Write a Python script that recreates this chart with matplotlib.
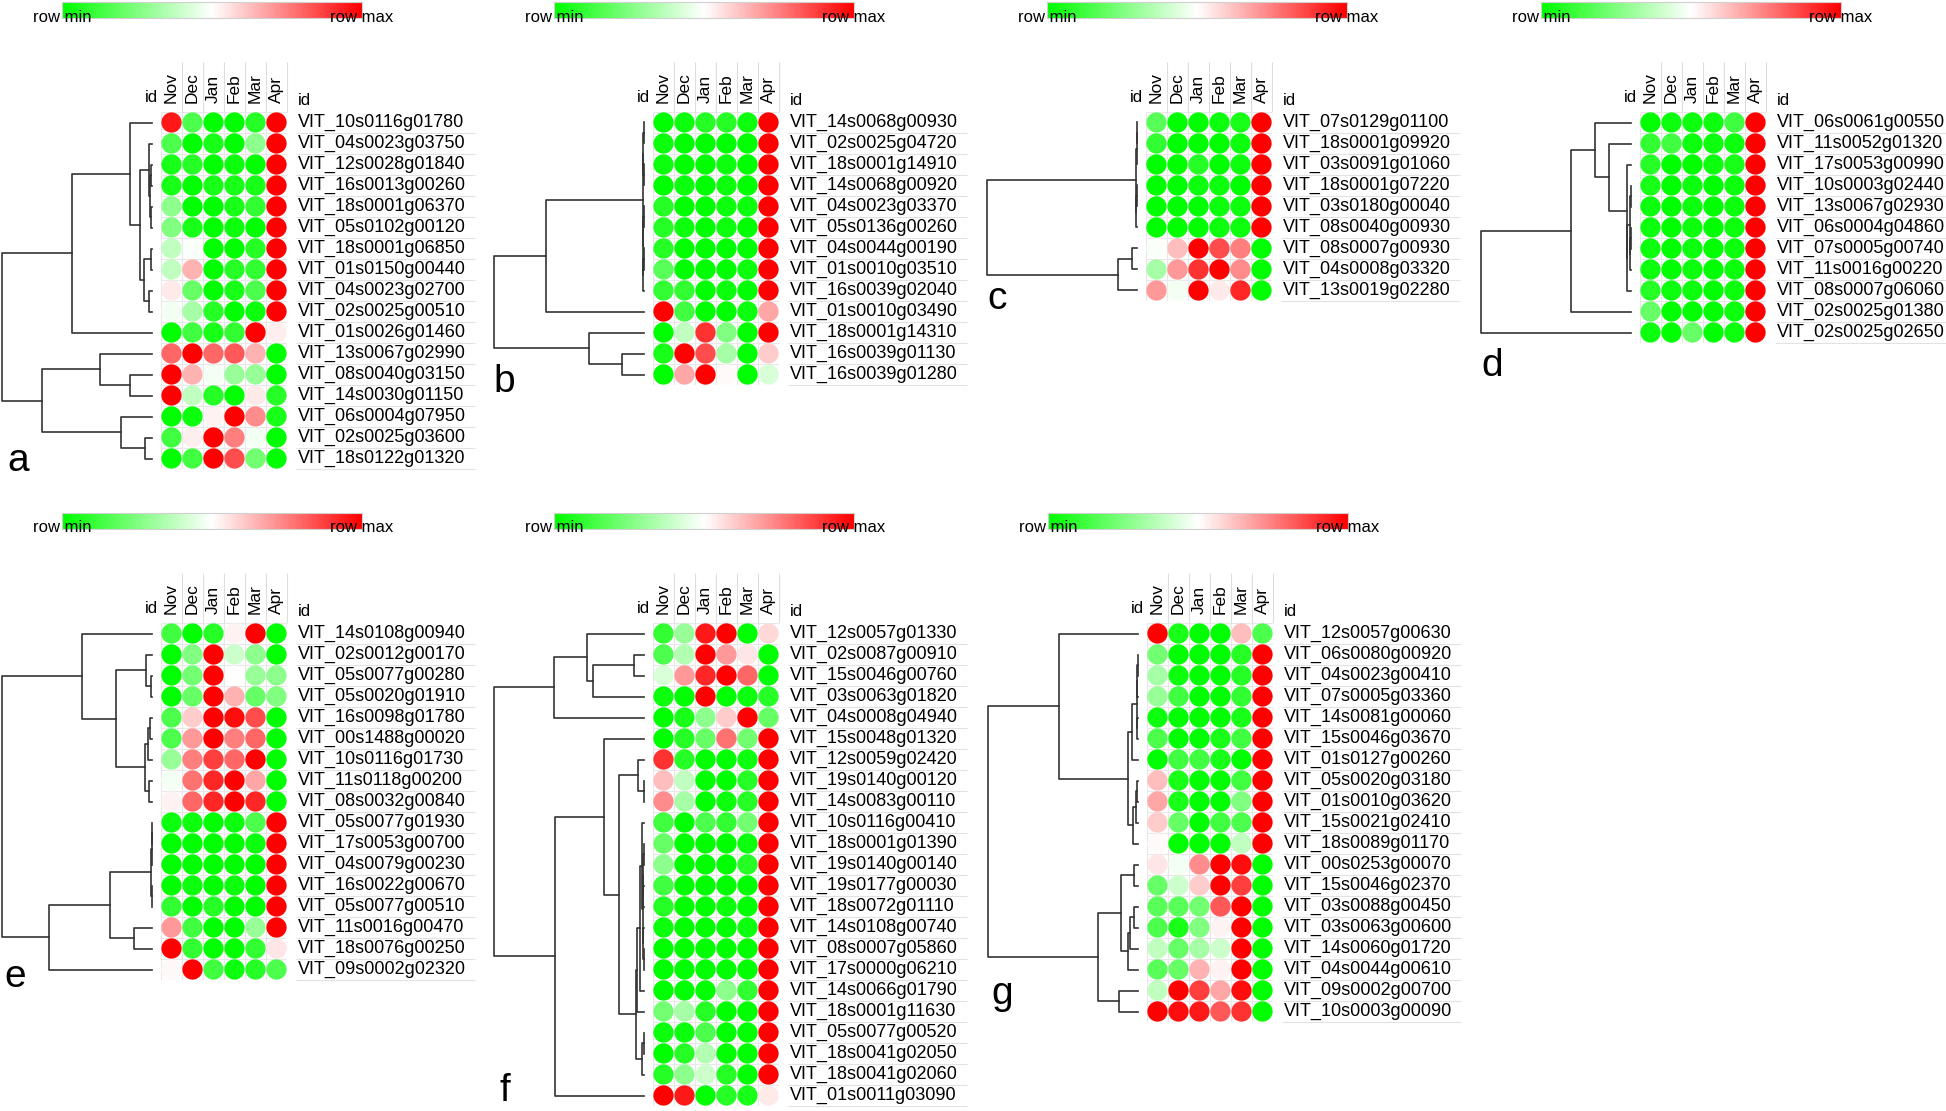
# Seven row-scaled heatmaps (circle cells) with dendrograms, panels a-g
# Colours are relative within each row: -1 = row min (green), 0 = mid (white), 1 = row max (red)

import numpy as np
import matplotlib.pyplot as plt
from matplotlib.colors import LinearSegmentedColormap

plt.rcParams['font.family'] = ['Liberation Sans', 'DejaVu Sans']

W, H = 1946, 1111
CELL = 21  # pixel size of one heatmap cell

months = ['Nov', 'Dec', 'Jan', 'Feb', 'Mar', 'Apr']

# ---------------- panel a ----------------
genes_a = ['VIT_10s0116g01780', 'VIT_04s0023g03750', 'VIT_12s0028g01840', 'VIT_16s0013g00260',
           'VIT_18s0001g06370', 'VIT_05s0102g00120', 'VIT_18s0001g06850', 'VIT_01s0150g00440',
           'VIT_04s0023g02700', 'VIT_02s0025g00510', 'VIT_01s0026g01460', 'VIT_13s0067g02990',
           'VIT_08s0040g03150', 'VIT_14s0030g01150', 'VIT_06s0004g07950', 'VIT_02s0025g03600',
           'VIT_18s0122g01320']
values_a = [[0.9, -0.7, -1, -1, -0.85, 1],
            [-0.7, -1, -0.9, -1, -0.45, 1],
            [-0.9, -0.85, -1, -0.95, -1, 1],
            [-0.9, -1, -0.9, -0.9, -0.9, 1],
            [-0.45, -1, -1, -0.9, -0.8, 1],
            [-0.5, -0.9, -1, -0.95, -1, 1],
            [-0.25, -0.02, -1, -1, -0.85, 1],
            [-0.25, 0.3, -1, -0.85, -0.8, 1],
            [0.08, -0.6, -1, -0.9, -0.7, 1],
            [-0.05, -0.35, -0.85, -1, -0.95, 1],
            [-1, -0.75, -0.9, -0.8, 1, 0.07],
            [0.6, 1, 0.6, 0.65, 0.3, -1],
            [1, 0.3, -0.05, -0.4, -0.4, -1],
            [1, -0.25, -0.85, -1, 0.08, -0.85],
            [-1, -0.95, 0.05, 1, 0.45, -0.9],
            [-0.75, 0.07, 1, 0.5, -0.05, -1],
            [-1, -0.75, 1, 0.7, -0.55, -1]]
# tree nodes are (height, left, right); leaves are row numbers
tree_a = (1.0,
          (0.536,
           (0.145, 0,
            (0.083,
             (0.022, 1, (0.012, (0.005, 2, 3), (0.008, 4, 5))),
             (0.051, (0.005, 6, 7), (0.022, 8, 9)))),
           10),
          (0.732,
           (0.346, 11, (0.15, 12, 13)),
           (0.208, 14, (0.045, 15, 16))))

# ---------------- panel b ----------------
genes_b = ['VIT_14s0068g00930', 'VIT_02s0025g04720', 'VIT_18s0001g14910', 'VIT_14s0068g00920',
           'VIT_04s0023g03370', 'VIT_05s0136g00260', 'VIT_04s0044g00190', 'VIT_01s0010g03510',
           'VIT_16s0039g02040', 'VIT_01s0010g03490', 'VIT_18s0001g14310', 'VIT_16s0039g01130',
           'VIT_16s0039g01280']
values_b = [[-1, -0.95, -0.85, -0.85, -0.95, 1],
            [-0.95, -1, -1, -1, -1, 1],
            [-0.95, -1, -1, -0.95, -1, 1],
            [-1, -0.95, -1, -0.95, -1, 1],
            [-0.85, -1, -1, -0.95, -0.95, 1],
            [-0.85, -0.95, -1, -0.95, -1, 1],
            [-0.85, -1, -1, -1, -1, 1],
            [-0.65, -1, -1, -1, -0.95, 1],
            [-0.8, -0.8, -1, -0.95, -1, 1],
            [1, -0.75, -1, -1, -0.95, 0.35],
            [-1, -0.25, 0.8, -0.5, -1, 1],
            [-0.9, 1, 0.7, -0.35, -1, 0.2],
            [-1, 0.35, 1, 0.02, -1, -0.15]]
tree_b = (1.0,
          (0.654,
           (0.007, (0.004, (0.002, 0, 1), (0.003, 2, 3)),
            (0.005, (0.002, 4, 5), (0.004, (0.002, 6, 7), 8))),
           9),
          (0.37, 10, (0.145, 11, 12)))

# ---------------- panel c ----------------
genes_c = ['VIT_07s0129g01100', 'VIT_18s0001g09920', 'VIT_03s0091g01060', 'VIT_18s0001g07220',
           'VIT_03s0180g00040', 'VIT_08s0040g00930', 'VIT_08s0007g00930', 'VIT_04s0008g03320',
           'VIT_13s0019g02280']
values_c = [[-0.65, -1, -1, -0.95, -0.9, 1],
            [-0.8, -1, -1, -1, -0.95, 1],
            [-1, -1, -0.85, -1, -0.95, 1],
            [-1, -1, -0.95, -0.95, -1, 1],
            [-1, -1, -1, -0.95, -0.95, 1],
            [-1, -1, -1, -0.95, -0.95, 1],
            [-0.02, 0.25, 1, 0.7, 0.5, -1],
            [-0.35, 0.4, 0.8, 1, 0.45, -1],
            [0.4, -0.05, 1, 0.08, 0.85, -1]]
tree_c = (1.0,
          (0.005, (0.003, (0.002, 0, 1), 2), (0.004, (0.002, 3, 4), 5)),
          (0.127, (0.031, 6, 7), 8))

# ---------------- panel d ----------------
genes_d = ['VIT_06s0061g00550', 'VIT_11s0052g01320', 'VIT_17s0053g00990', 'VIT_10s0003g02440',
           'VIT_13s0067g02930', 'VIT_06s0004g04860', 'VIT_07s0005g00740', 'VIT_11s0016g00220',
           'VIT_08s0007g06060', 'VIT_02s0025g01380', 'VIT_02s0025g02650']
values_d = [[-1, -0.95, -0.95, -0.95, -0.75, 1],
            [-0.8, -0.75, -0.95, -0.95, -0.95, 1],
            [-0.85, -1, -1, -0.95, -0.9, 1],
            [-0.9, -1, -0.95, -1, -0.95, 1],
            [-0.95, -1, -0.95, -1, -0.95, 1],
            [-0.95, -1, -0.95, -1, -0.95, 1],
            [-0.95, -1, -0.95, -1, -0.95, 1],
            [-0.95, -1, -0.95, -1, -0.95, 1],
            [-0.85, -0.95, -0.95, -1, -0.95, 1],
            [-0.6, -1, -1, -1, -0.95, 1],
            [-0.95, -1, -0.6, -1, -0.95, 1]]
tree_d = (1.0,
          (0.4,
           (0.24, 0,
            (0.144, 1,
             (0.029, 2,
              (0.026, (0.006, (0.003, 3, 4), (0.004, (0.002, 5, 6), 7)), 8)))),
           9),
          10)

# ---------------- panel e ----------------
genes_e = ['VIT_14s0108g00940', 'VIT_02s0012g00170', 'VIT_05s0077g00280', 'VIT_05s0020g01910',
           'VIT_16s0098g01780', 'VIT_00s1488g00020', 'VIT_10s0116g01730', 'VIT_11s0118g00200',
           'VIT_08s0032g00840', 'VIT_05s0077g01930', 'VIT_17s0053g00700', 'VIT_04s0079g00230',
           'VIT_16s0022g00670', 'VIT_05s0077g00510', 'VIT_11s0016g00470', 'VIT_18s0076g00250',
           'VIT_09s0002g02320']
values_e = [[-0.75, -1, -0.85, 0.05, 1, -1],
            [-1, -0.5, 1, -0.2, -0.45, -1],
            [-1, -0.55, 1, 0.0, -0.4, -0.45],
            [-1, -0.6, 1, 0.3, -0.6, -0.5],
            [-0.7, 0.2, 1, 0.95, 0.7, -1],
            [-0.7, 0.4, 1, 0.5, 0.6, -1],
            [-0.4, 0.5, 0.75, 0.6, 1, -1],
            [-0.05, 0.55, 0.85, 1, 0.35, -1],
            [0.05, 0.6, 0.85, 1, 0.85, -1],
            [-0.95, -0.95, -1, -0.95, -0.7, 1],
            [-1, -1, -1, -1, -0.95, 1],
            [-1, -1, -1, -1, -1, 1],
            [-1, -0.95, -1, -0.95, -1, 1],
            [-0.8, -1, -0.85, -1, -1, 1],
            [0.4, -0.75, -1, -1, -0.4, 1],
            [1, -0.8, -1, -1, -0.8, 0.1],
            [0.03, 1, -0.75, -0.95, -0.85, -0.7]]
tree_e = (1.0,
          (0.467, 0,
           (0.242,
            (0.038, 1, (0.004, 2, 3)),
            (0.044, (0.027, (0.016, 4, 5), 6), (0.022, 7, 8)))),
          (0.689,
           (0.278, (0.005, (0.003, (0.002, 9, 10), 11), (0.003, 12, 13)), (0.12, 14, 15)),
           16))

# ---------------- panel f ----------------
genes_f = ['VIT_12s0057g01330', 'VIT_02s0087g00910', 'VIT_15s0046g00760', 'VIT_03s0063g01820',
           'VIT_04s0008g04940', 'VIT_15s0048g01320', 'VIT_12s0059g02420', 'VIT_19s0140g00120',
           'VIT_14s0083g00110', 'VIT_10s0116g00410', 'VIT_18s0001g01390', 'VIT_19s0140g00140',
           'VIT_19s0177g00030', 'VIT_18s0072g01110', 'VIT_14s0108g00740', 'VIT_08s0007g05860',
           'VIT_17s0000g06210', 'VIT_14s0066g01790', 'VIT_18s0001g11630', 'VIT_05s0077g00520',
           'VIT_18s0041g02050', 'VIT_18s0041g02060', 'VIT_01s0011g03090']
values_f = [[-0.8, -0.4, 0.9, 1, -1, 0.15],
            [-0.7, -0.3, 1, 0.4, 0.1, -1],
            [-0.15, 0.4, 0.85, 1, 0.6, -1],
            [-0.95, -1, 1, -1, -0.95, -0.85],
            [-1, -0.9, -0.45, 0.2, 1, -0.6],
            [-1, -0.85, -0.6, 0.55, -0.55, 1],
            [0.8, -0.85, -1, -1, -0.95, 1],
            [0.25, -0.25, -1, -1, -0.85, 1],
            [0.45, -0.35, -1, -0.95, -0.85, 1],
            [-0.75, -1, -0.7, -0.8, -0.55, 1],
            [-0.6, -1, -1, -1, -0.95, 1],
            [-0.45, -1, -1, -1, -0.85, 1],
            [-0.75, -1, -1, -1, -1, 1],
            [-0.85, -1, -1, -0.95, -1, 1],
            [-0.95, -1, -1, -1, -0.95, 1],
            [-1, -1, -1, -1, -1, 1],
            [-1, -1, -1, -1, -1, 1],
            [-1, -1, -1, -0.45, -0.8, 1],
            [-0.55, -0.35, -0.85, -1, -1, 1],
            [-0.95, -0.95, -0.7, -1, -1, 1],
            [-1, -0.85, -0.3, -1, -1, 1],
            [-0.85, -0.45, -0.2, -0.85, -1, 1],
            [1, 0.9, -1, -0.85, -0.9, 0.08]]
tree_f = (1.0,
          (0.603,
           (0.382, 0, (0.337, (0.069, 1, 2), 3)),
           4),
          (0.594,
           (0.268, 5,
            (0.17,
             (0.04, 6, (0.002, 7, 8)),
             (0.051,
              (0.049,
               (0.025,
                (0.015, 9, (0.01, (0.006, (0.003, 10, 11), (0.004, 12, 13)),
                            (0.005, 14, (0.002, 15, 16)))),
                17),
               18),
              (0.013, (0.003, 19, 20), 21)))),
           22))

# ---------------- panel g ----------------
genes_g = ['VIT_12s0057g00630', 'VIT_06s0080g00920', 'VIT_04s0023g00410', 'VIT_07s0005g03360',
           'VIT_14s0081g00060', 'VIT_15s0046g03670', 'VIT_01s0127g00260', 'VIT_05s0020g03180',
           'VIT_01s0010g03620', 'VIT_15s0021g02410', 'VIT_18s0089g01170', 'VIT_00s0253g00070',
           'VIT_15s0046g02370', 'VIT_03s0088g00450', 'VIT_03s0063g00600', 'VIT_14s0060g01720',
           'VIT_04s0044g00610', 'VIT_09s0002g00700', 'VIT_10s0003g00090']
values_g = [[1, -0.9, -1, -1, 0.25, -0.7],
            [-0.55, -1, -1, -1, -0.85, 1],
            [-0.35, -0.95, -1, -1, -0.85, 1],
            [-0.4, -0.75, -1, -1, -0.8, 1],
            [-0.95, -1, -1, -1, -0.9, 1],
            [-0.7, -1, -1, -0.9, -0.75, 1],
            [-1, -0.75, -0.75, -0.9, -1, 1],
            [0.25, -0.9, -1, -1, -0.75, 1],
            [0.35, -0.9, -1, -1, -0.5, 1],
            [0.2, -0.6, -1, -0.75, -0.7, 1],
            [0.02, -1, -1, -1, -0.25, 1],
            [0.1, -0.05, 0.45, 1, 0.95, -1],
            [-0.6, -0.2, 0.2, 1, 0.75, -1],
            [-0.65, -0.65, -0.55, 0.65, 1, -1],
            [-0.7, -0.9, -0.5, 0.05, 1, -1],
            [-0.25, -0.6, -0.35, -0.2, 1, -1],
            [-0.65, -0.6, 0.3, 0.05, 1, -1],
            [-0.25, 1, 0.75, 0.35, 0.95, -1],
            [1, 0.95, 0.9, 0.65, 0.8, -1]]
tree_g = (1.0,
          (0.527, 0,
           (0.067,
            (0.038, (0.008, (0.005, (0.003, 1, 2), 3), (0.004, 4, 5)), 6),
            (0.033, (0.015, (0.006, 7, 8), 9), 10))),
          (0.264,
           (0.111, (0.027, 11, 12), (0.067, (0.056, (0.027, 13, 14), 15), 16)),
           (0.127, 17, 18)))

# green - white - red, as in the row min / row max bars
cmap = LinearSegmentedColormap.from_list('rowminmax', ['#00ff00', '#ffffff', '#ff0000'])

fig = plt.figure(figsize=(W / 100, H / 100), dpi=100)


def add_px_axes(x, y, w, h):
    # axes placed in pixel units measured from the top left corner
    return fig.add_axes([x / W, 1 - (y + h) / H, w / W, h / H])


def draw_tree(ax, node):
    # returns (y position, height) of the node after drawing its links
    if isinstance(node, int):
        return node + 0.5, 0.0
    h, left, right = node
    yl, hl = draw_tree(ax, left)
    yr, hr = draw_tree(ax, right)
    ax.plot([hl, h, h, hr], [yl, yl, yr, yr], color='#333333', lw=1.2, clip_on=False)
    return (yl + yr) / 2, h


def draw_panel(letter, genes, values, tree, gx, gy, lx, ly):
    n = len(genes)
    vals = np.array(values)

    # colour bar on top
    cb = add_px_axes(gx - 99, gy - 110, 300, 16)
    cb.imshow(np.linspace(-1, 1, 300)[None, :], aspect='auto', cmap=cmap, vmin=-1, vmax=1,
              extent=[0, 1, 0, 1])
    cb.set_xticks([])
    cb.set_yticks([])
    for s in cb.spines.values():
        s.set_color('#d0d0d0')
    fig.text((gx - 99) / W, 1 - (gy - 95) / H, 'row min', ha='center', va='center', fontsize=12)
    fig.text((gx + 201) / W, 1 - (gy - 95) / H, 'row max', ha='center', va='center', fontsize=12)

    # heatmap of circles
    hm = add_px_axes(gx, gy, 6 * CELL, n * CELL)
    hm.set_xlim(0, 6)
    hm.set_ylim(n, 0)
    hm.axis('off')
    hm.vlines(np.arange(0, 7), 0, n, color='#e8e8e8', lw=0.8)
    hm.hlines(np.arange(0, n + 1), 0, 6, color='#e8e8e8', lw=0.8)
    hm.vlines(np.arange(1, 7), -2.4, 0, color='#dedede', lw=0.8, clip_on=False)
    cols, rows = np.meshgrid(np.arange(6), np.arange(n))
    hm.scatter(cols.ravel() + 0.5, rows.ravel() + 0.5, c=vals.ravel(), cmap=cmap,
               vmin=-1, vmax=1, s=213, linewidths=0, zorder=3)
    for j, m in enumerate(months):
        hm.text(j + 0.5, -0.45, m, rotation=90, ha='center', va='bottom', fontsize=12.5)
    hm.text(-0.15, -0.35, 'id', ha='right', va='bottom', fontsize=12)
    hm.text(6.5, -0.2, 'id', ha='left', va='bottom', fontsize=12)
    for i, g in enumerate(genes):
        hm.text(6.52, i + 0.5, g, ha='left', va='center', fontsize=13)
    hm.hlines(np.arange(1, n + 1), 6.45, 14.95, color='#e2e2e2', lw=0.8, clip_on=False)

    # dendrogram to the left
    dg = add_px_axes(gx - 159, gy, 150, n * CELL)
    dg.set_xlim(1.0, 0.0)
    dg.set_ylim(n, 0)
    dg.axis('off')
    draw_tree(dg, tree)

    # panel letter
    fig.text(lx / W, 1 - ly / H, letter, ha='left', va='baseline', fontsize=28)


draw_panel('a', genes_a, values_a, tree_a, 161, 112, 7, 471)
draw_panel('b', genes_b, values_b, tree_b, 653, 112, 493, 392)
draw_panel('c', genes_c, values_c, tree_c, 1146, 112, 987, 309)
draw_panel('d', genes_d, values_d, tree_d, 1640, 112, 1481, 376)
draw_panel('e', genes_e, values_e, tree_e, 161, 623, 4, 987)
draw_panel('f', genes_f, values_f, tree_f, 653, 623, 499, 1101)
draw_panel('g', genes_g, values_g, tree_g, 1147, 623, 991, 1004)

fig.savefig('out.png', dpi=100, facecolor='white')
